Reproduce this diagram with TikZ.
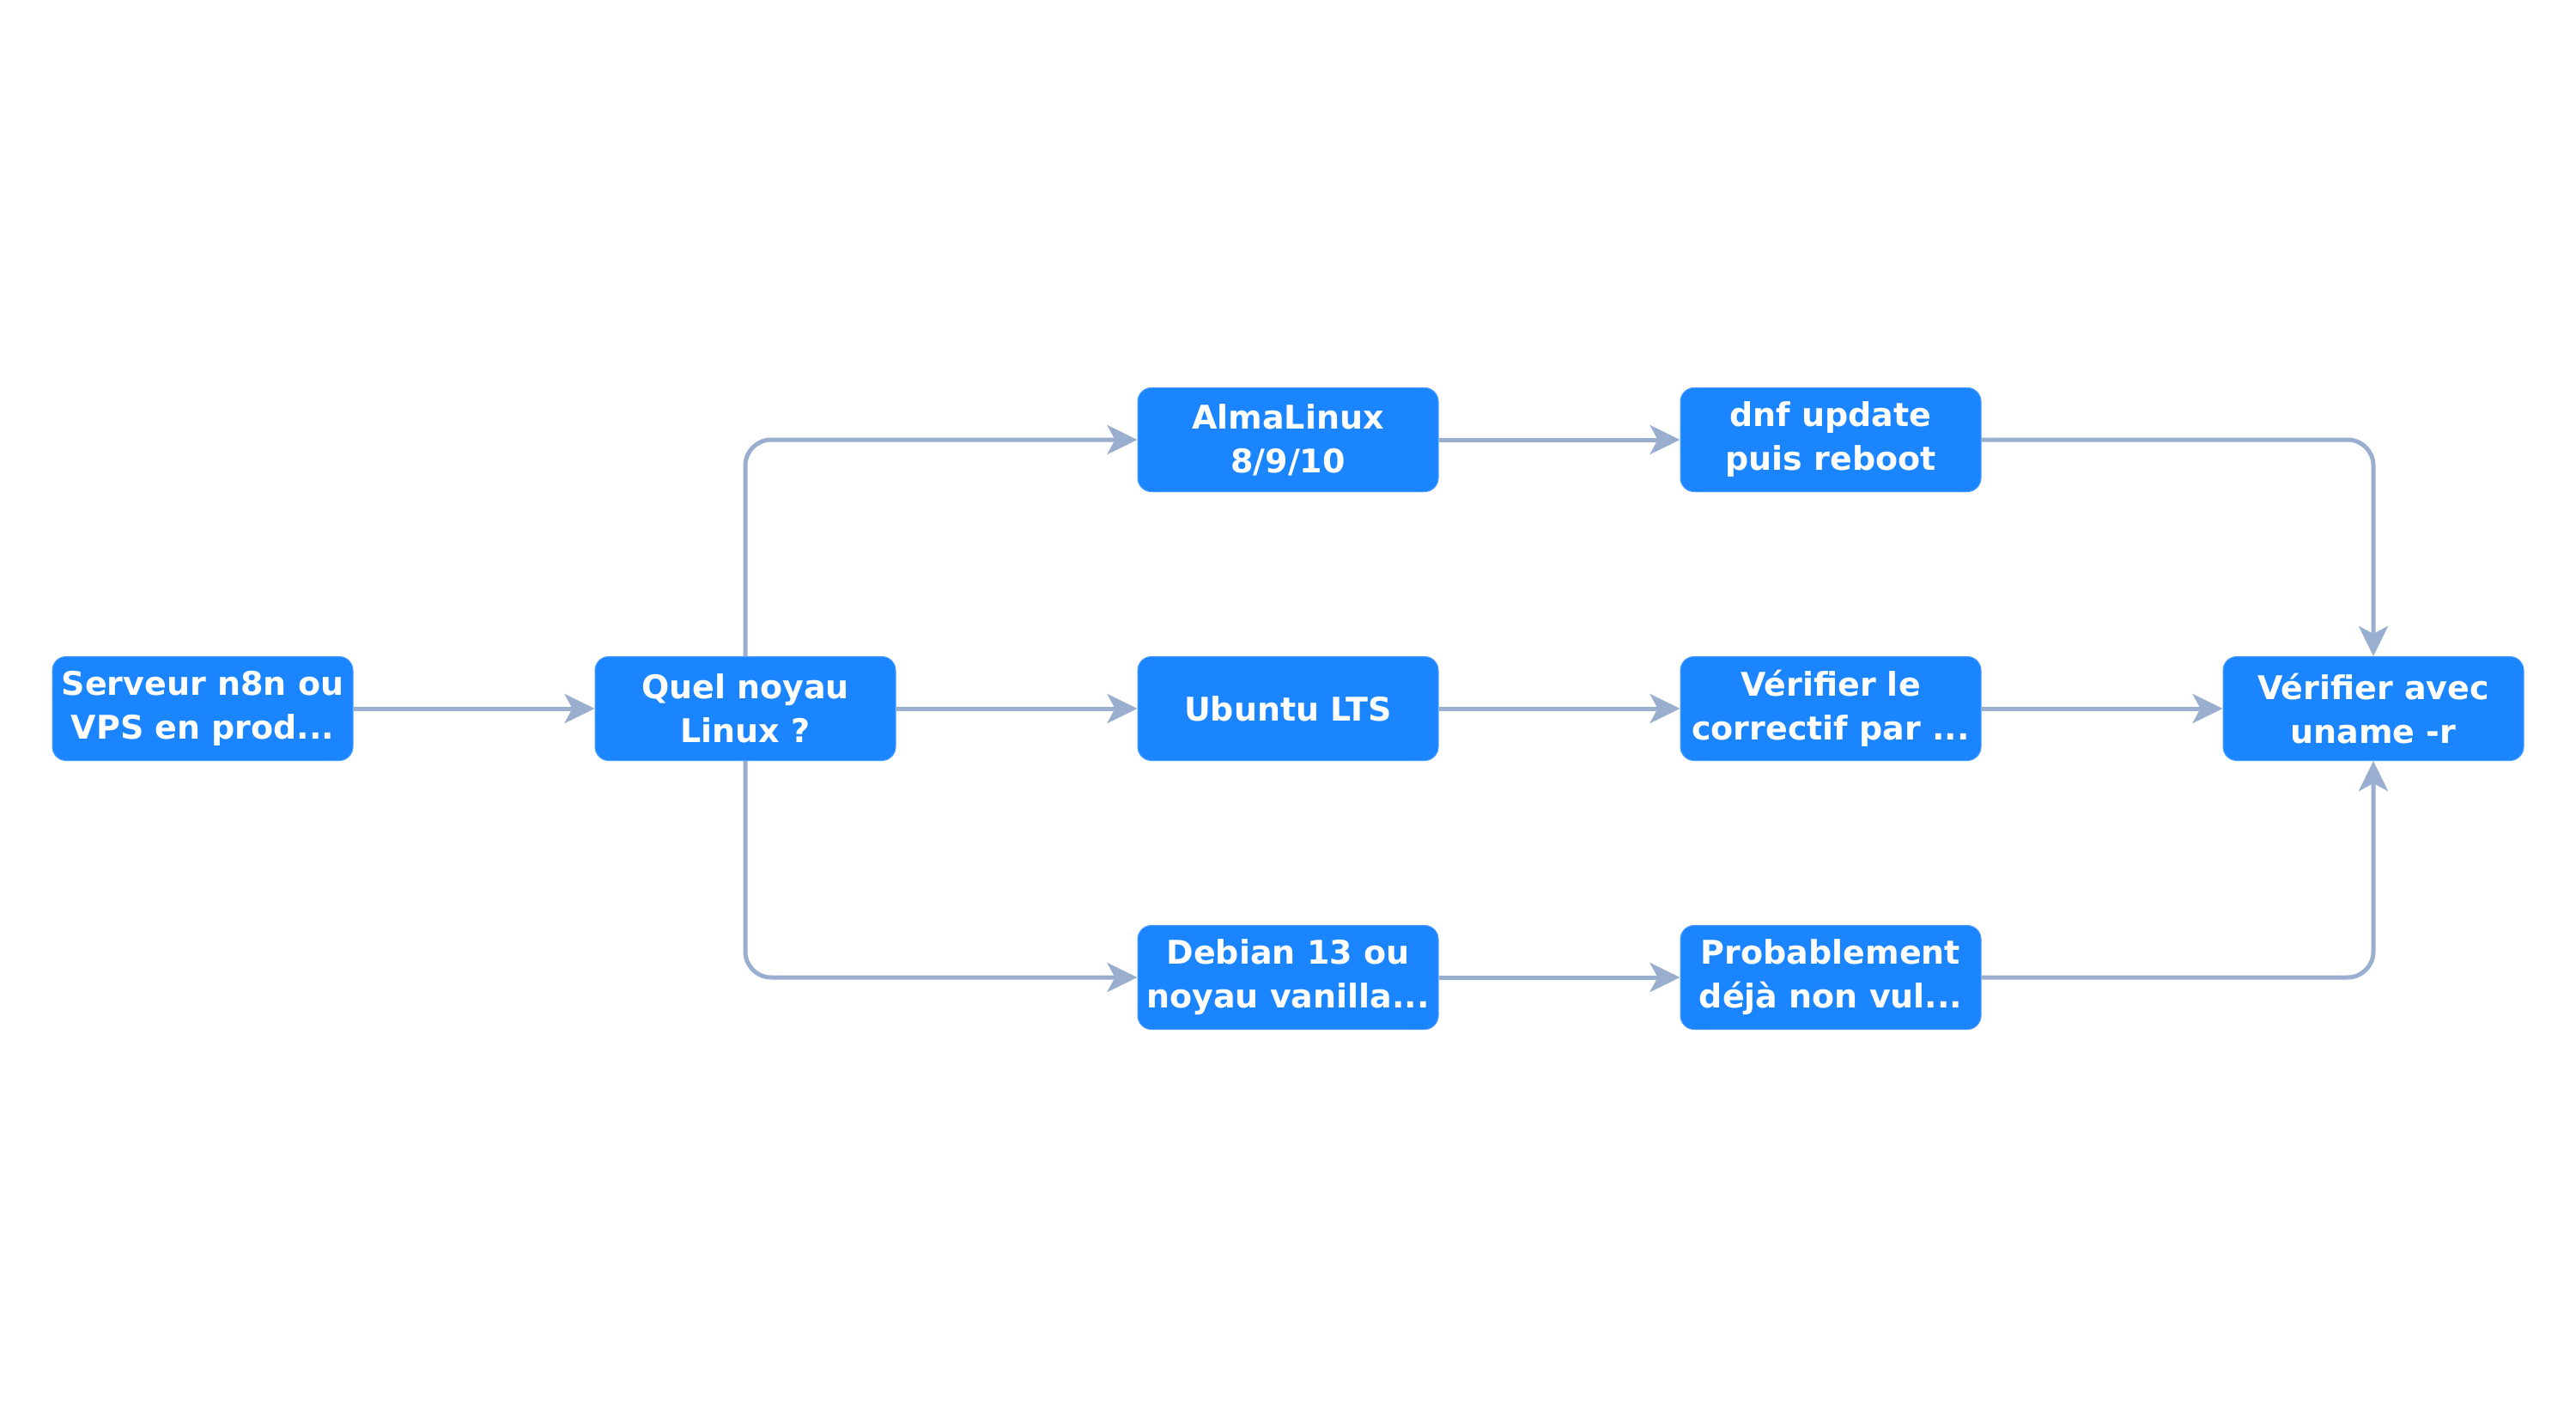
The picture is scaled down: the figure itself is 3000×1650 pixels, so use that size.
\documentclass[tikz,border=0pt]{standalone}
\usepackage{fontspec}
\setmainfont{DejaVu Sans}
\usetikzlibrary{arrows.meta}
\definecolor{boxblue}{HTML}{1A85FF}
\definecolor{edgegray}{HTML}{9AAED0}
\begin{document}
\begin{tikzpicture}[x=1pt,y=-1pt,
  flowbox/.style={rectangle, rounded corners=16pt, fill=boxblue, draw=boxblue!80!white, line width=1pt,
    minimum width=350pt, minimum height=121pt, inner sep=0pt, text=white, align=center,
    font=\fontsize{38}{51}\selectfont\bfseries},
  arr/.style={draw=edgegray, line width=5pt, -{Stealth[length=35pt,width=34pt,inset=9pt]}, rounded corners=30pt}]
\useasboundingbox (0,0) rectangle (3000,1650);
\node[flowbox] (srv) at (236,825) {Serveur n8n ou\\VPS en prod...};
\node[flowbox] (q) at (868,825) {Quel noyau\\Linux ?};
\node[flowbox] (alma) at (1500,512) {AlmaLinux\\8/9/10};
\node[flowbox] (ubu) at (1500,825) {Ubuntu LTS};
\node[flowbox] (deb) at (1500,1138) {Debian 13 ou\\noyau vanilla...};
\node[flowbox] (dnf) at (2132,512) {dnf update\\puis reboot};
\node[flowbox] (ver) at (2132,825) {Vérifier le\\correctif par ...};
\node[flowbox] (prob) at (2132,1138) {Probablement\\déjà non vul...};
\node[flowbox] (fin) at (2764,825) {Vérifier avec\\uname -r};
\draw[arr] (srv) -- (q);
\draw[arr] (q.north) |- (alma.west);
\draw[arr] (q) -- (ubu);
\draw[arr] (q.south) |- (deb.west);
\draw[arr] (alma) -- (dnf);
\draw[arr] (ubu) -- (ver);
\draw[arr] (deb) -- (prob);
\draw[arr] (dnf.east) -| (fin.north);
\draw[arr] (ver) -- (fin);
\draw[arr] (prob.east) -| (fin.south);
\end{tikzpicture}
\end{document}
